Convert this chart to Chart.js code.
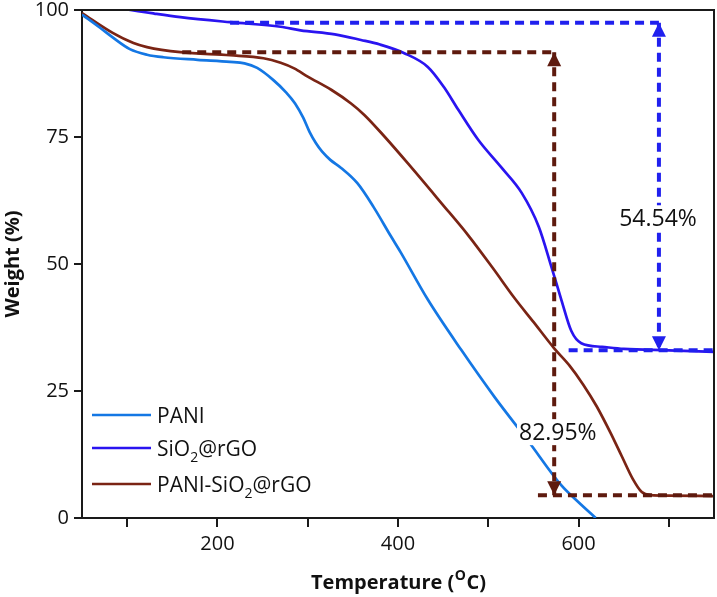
<!DOCTYPE html>
<html>
<head>
<meta charset="utf-8">
<script src="https://cdn.jsdelivr.net/npm/chart.js@4.4.1/dist/chart.umd.min.js"></script>
<style>
  html, body { margin: 0; padding: 0; background: #fff; }
  #wrap { width: 717px; height: 597px; }
</style>
</head>
<body>
<div id="wrap"><canvas id="c" width="717" height="597"></canvas></div>
<script>
// ---- data ----
const seriesNames = ['PANI', 'SiO2@rGO', 'PANI-SiO2@rGO'];

const paniT = [50, 70, 84, 103, 122, 140, 178, 214, 230, 244, 262, 276, 286, 295, 302, 309, 316, 325, 337, 355, 373, 392, 403, 433, 470, 507, 544, 581, 600, 619];
const paniW = [99.1, 96.5, 94.6, 92.3, 91.2, 90.7, 90.2, 89.8, 89.5, 88.6, 86.2, 83.8, 81.6, 78.8, 76.0, 73.8, 72.1, 70.5, 68.9, 65.9, 61.2, 55.5, 52.3, 43.0, 33.1, 23.8, 15.2, 6.4, 3.1, 0];

const sioT = [50, 75, 100, 130, 159, 214, 270, 292, 330, 359, 380, 407, 433, 451, 467, 489, 514, 537, 556, 570, 581, 592, 603, 626, 650, 700, 750];
const sioW = [101.8, 100.9, 100.1, 99.3, 98.6, 97.6, 96.7, 96.0, 95.2, 94.1, 93.2, 91.5, 88.8, 84.8, 80.3, 74.4, 69.1, 64.0, 57.3, 49.4, 42.9, 36.8, 34.4, 33.7, 33.3, 33.0, 32.7];

const compT = [50, 84, 107, 122, 159, 214, 251, 270, 285, 300, 326, 348, 363, 385, 411, 448, 478, 505, 529, 550, 573, 590, 605, 620, 635, 648, 660, 670, 680, 700, 750];
const compW = [99.4, 95.5, 93.5, 92.7, 91.7, 91.1, 90.5, 89.6, 88.5, 86.9, 84.3, 81.6, 79.3, 75.1, 69.8, 62.0, 55.6, 49.2, 43.3, 38.6, 33.4, 30.0, 26.3, 22.0, 16.9, 12.1, 7.7, 5.1, 4.5, 4.4, 4.3];

// weight-loss markers: [temperature, weight]
const sioLossTop = [[214, 97.5], [689, 97.5]];
const sioLossBottom = [[589, 33.0], [750, 33.0]];
const sioLossArrow = [[689, 97.5], [689, 33.0]];
const sioLossLabel = ['54.54%', 688, 59.0];

const compLossTop = [[161, 91.7], [573, 91.7]];
const compLossBottom = [[555, 4.5], [750, 4.5]];
const compLossArrow = [[573, 91.7], [573, 4.5]];
const compLossLabel = ['82.95%', 577, 16.9];

const xTicks = [100, 200, 300, 400, 500, 600, 700];
const xLabelled = [200, 400, 600];
const yTicks = [0, 25, 50, 75, 100];

// ---- styling ----
const C_PANI = '#1477e4';
const C_SIO = '#2a14f0';
const C_COMP = '#7a2414';
const C_SIO_DASH = '#2020ee';
const C_COMP_DASH = '#5e1a0e';
const AXIS = '#1a1a1a';
const FONT = "'Open Sans', 'DejaVu Sans', sans-serif";

const pts = (t, w) => t.map((v, i) => ({ x: v, y: w[i] }));
const seg = (a) => a.map(p => ({ x: p[0], y: p[1] }));

function curve(label, t, w, color) {
  return {
    label, data: pts(t, w), borderColor: color, backgroundColor: color,
    borderWidth: 2.7, pointRadius: 0, cubicInterpolationMode: 'monotone',
    fill: false, order: 1
  };
}
function dash(data, color) {
  return {
    label: '', data: seg(data), borderColor: color, borderWidth: 4,
    borderDash: [9, 6], pointRadius: 0, tension: 0, fill: false, order: 0
  };
}

const markerPlugin = {
  id: 'markers',
  afterDatasetsDraw(chart) {
    const { ctx, scales: { x, y } } = chart;
    function arrow(t, w, dir, color) {
      const px = x.getPixelForValue(t), py = y.getPixelForValue(w);
      ctx.save();
      ctx.fillStyle = color;
      ctx.beginPath();
      ctx.moveTo(px, py);
      ctx.lineTo(px - 7, py - dir * 14);
      ctx.lineTo(px + 7, py - dir * 14);
      ctx.closePath();
      ctx.fill();
      ctx.restore();
    }
    arrow(sioLossArrow[0][0], sioLossArrow[0][1], -1, C_SIO_DASH);
    arrow(sioLossArrow[1][0], sioLossArrow[1][1], 1, C_SIO_DASH);
    arrow(compLossArrow[0][0], compLossArrow[0][1], -1, C_COMP_DASH);
    arrow(compLossArrow[1][0], compLossArrow[1][1], 1, C_COMP_DASH);

    function label(l) {
      const px = x.getPixelForValue(l[1]), py = y.getPixelForValue(l[2]);
      ctx.save();
      ctx.font = '23px ' + FONT;
      const w = ctx.measureText(l[0]).width;
      ctx.fillStyle = '#fff';
      ctx.fillRect(px - w / 2 - 2, py - 13, w + 4, 26);
      ctx.fillStyle = '#111';
      ctx.textAlign = 'center';
      ctx.textBaseline = 'middle';
      ctx.fillText(l[0], px, py + 1);
      ctx.restore();
    }
    label(sioLossLabel);
    label(compLossLabel);
  },
  afterDraw(chart) {
    const { ctx, chartArea: a } = chart;
    ctx.save();
    ctx.strokeStyle = AXIS;
    ctx.lineWidth = 2;
    ctx.beginPath();
    ctx.moveTo(a.left, a.top);
    ctx.lineTo(a.right, a.top);
    ctx.lineTo(a.right, a.bottom);
    ctx.stroke();

    // legend
    const colors = [C_PANI, C_SIO, C_COMP];
    const rows = [415, 448, 484];
    const lx0 = a.left + 10, lx1 = a.left + 69, tx = a.left + 75;
    rows.forEach((ry, i) => {
      ctx.strokeStyle = colors[i];
      ctx.lineWidth = 2.7;
      ctx.beginPath();
      ctx.moveTo(lx0, ry);
      ctx.lineTo(lx1, ry);
      ctx.stroke();
      ctx.fillStyle = '#111';
      ctx.textBaseline = 'alphabetic';
      ctx.textAlign = 'left';
      const name = seriesNames[i];
      const parts = name.split('2');
      let cx = tx;
      const base = ry + 8;
      ctx.font = '21px ' + FONT;
      ctx.fillText(parts[0], cx, base);
      cx += ctx.measureText(parts[0]).width;
      if (parts.length > 1) {
        ctx.font = '14px ' + FONT;
        ctx.fillText('2', cx, base + 6);
        cx += ctx.measureText('2').width;
        ctx.font = '21px ' + FONT;
        ctx.fillText(parts[1], cx, base);
      }
    });

    // x axis title with superscript
    const cxm = (a.left + a.right) / 2;
    const bY = 589;
    ctx.fillStyle = '#111';
    ctx.font = 'bold 20px ' + FONT;
    const p1 = 'Temperature (', p3 = 'C)';
    const w1 = ctx.measureText(p1).width, w3 = ctx.measureText(p3).width;
    ctx.font = 'bold 14px ' + FONT;
    const w2 = ctx.measureText('O').width;
    let sx = cxm - (w1 + w2 + w3) / 2;
    ctx.font = 'bold 20px ' + FONT;
    ctx.fillText(p1, sx, bY);
    ctx.font = 'bold 14px ' + FONT;
    ctx.fillText('O', sx + w1 + 0.5, bY - 9);
    ctx.font = 'bold 20px ' + FONT;
    ctx.fillText(p3, sx + w1 + w2 + 1, bY);
    ctx.restore();
  }
};

new Chart(document.getElementById('c'), {
  type: 'line',
  data: {
    datasets: [
      curve(seriesNames[0], paniT, paniW, C_PANI),
      curve(seriesNames[1], sioT, sioW, C_SIO),
      curve(seriesNames[2], compT, compW, C_COMP),
      dash(sioLossTop, C_SIO_DASH),
      dash(sioLossBottom, C_SIO_DASH),
      dash(sioLossArrow, C_SIO_DASH),
      dash(compLossTop, C_COMP_DASH),
      dash(compLossBottom, C_COMP_DASH),
      dash(compLossArrow, C_COMP_DASH)
    ]
  },
  options: {
    responsive: false,
    animation: false,
    layout: { padding: { left: 0, right: 3, top: 10, bottom: 0 } },
    plugins: { legend: { display: false }, tooltip: { enabled: false } },
    scales: {
      x: {
        type: 'linear', min: 50, max: 750,
        afterBuildTicks: (s) => { s.ticks = xTicks.map(v => ({ value: v })); },
        afterFit: (s) => { s.height = 79; s.paddingLeft = 0; s.paddingRight = 0; },
        grid: { display: true, drawOnChartArea: false, drawTicks: true, tickLength: 9, color: AXIS, lineWidth: 2 },
        border: { display: true, color: AXIS, width: 2 },
        ticks: {
          autoSkip: false, maxRotation: 0, padding: 5, color: '#111',
          font: { family: FONT, size: 20 },
          callback: (v) => xLabelled.includes(v) ? String(v) : ''
        },
        title: { display: false }
      },
      y: {
        type: 'linear', min: 0, max: 100,
        afterBuildTicks: (s) => { s.ticks = yTicks.map(v => ({ value: v })); },
        afterFit: (s) => { s.width = 82; s.paddingTop = 0; s.paddingBottom = 0; },
        grid: { display: true, drawOnChartArea: false, drawTicks: true, tickLength: 8, color: AXIS, lineWidth: 2 },
        border: { display: true, color: AXIS, width: 2 },
        ticks: { padding: 5, color: '#111', font: { family: FONT, size: 20 } },
        title: {
          display: true, text: 'Weight (%)', color: '#111',
          font: { family: FONT, size: 20, weight: 'bold' }, padding: { top: 1, bottom: 0 }
        }
      }
    }
  },
  plugins: [markerPlugin]
});
</script>
</body>
</html>
